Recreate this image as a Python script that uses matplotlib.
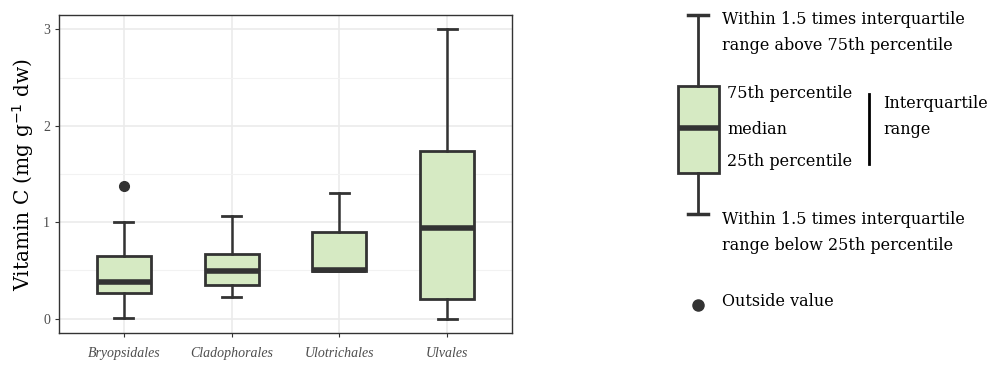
import matplotlib.pyplot as plt
from matplotlib.patches import Rectangle

# data
orders = ["Bryopsidales", "Cladophorales", "Ulotrichales", "Ulvales"]
whisker_low = [0.01, 0.22, 0.49, 0.0]
q1 = [0.26, 0.345, 0.49, 0.2]
median = [0.38, 0.49, 0.50, 0.94]
q3 = [0.65, 0.67, 0.90, 1.735]
whisker_high = [1.0, 1.065, 1.30, 3.0]
outliers = [[1.38], [], [], []]

fill = "#d6eac3"
edge = "#333333"
serif = ["Liberation Serif", "DejaVu Serif"]
wide = ["DejaVu Serif"]
plt.rcParams["font.family"] = serif

fig = plt.figure(figsize=(10.02, 3.65), dpi=100)
ax = fig.add_axes([59 / 1002, 32 / 365, 453 / 1002, 318 / 365])

stats = []
for i, name in enumerate(orders):
    stats.append(dict(label=name, whislo=whisker_low[i], q1=q1[i], med=median[i],
                      q3=q3[i], whishi=whisker_high[i], fliers=outliers[i]))

ax.bxp(stats, positions=range(1, len(orders) + 1), widths=0.5, patch_artist=True,
       boxprops=dict(facecolor=fill, edgecolor=edge, linewidth=2),
       medianprops=dict(color=edge, linewidth=4, solid_capstyle="butt"),
       whiskerprops=dict(color=edge, linewidth=1.8),
       capprops=dict(color=edge, linewidth=2),
       capwidths=0.18,
       flierprops=dict(marker="o", markerfacecolor=edge, markeredgecolor=edge,
                       markersize=7), zorder=3)

ax.set_xlim(0.4, 4.6)
ax.set_ylim(-0.15, 3.15)
ax.set_yticks([0, 1, 2, 3])
ax.set_yticks([0.5, 1.5, 2.5], minor=True)
ax.set_xticks(range(1, 5))
ax.set_xticklabels(orders, fontstyle="italic", fontsize=10, color="#4d4d4d")
ax.tick_params(axis="y", labelsize=10, labelcolor="#4d4d4d", length=3, color="#333333")
ax.tick_params(axis="x", length=3, color="#333333", pad=7)
ax.tick_params(which="minor", length=0)
ax.grid(which="major", color="#ebebeb", linewidth=1.2, zorder=0)
ax.grid(which="minor", axis="y", color="#f2f2f2", linewidth=0.8, zorder=0)
ax.set_axisbelow(True)
for s in ax.spines.values():
    s.set_color("#333333")
    s.set_linewidth(1)
ax.set_ylabel("Vitamin C (mg g$^{-1}$ dw)", fontsize=14.5, family=wide, labelpad=5)

# explanatory key on the right, in pixel units
key = fig.add_axes([0, 0, 1, 1], zorder=5)
key.set_xlim(0, 1002)
key.set_ylim(365, 0)
key.axis("off")
bx = 698
key.plot([bx, bx], [15, 86], color=edge, lw=2)
key.plot([bx, bx], [173, 214], color=edge, lw=2)
key.plot([688, 708], [15, 15], color=edge, lw=2.5)
key.plot([688, 708], [214, 214], color=edge, lw=2.5)
key.add_patch(Rectangle((678, 86), 41, 87, facecolor=fill, edgecolor=edge, lw=2))
key.plot([678, 719], [128, 128], color=edge, lw=4, solid_capstyle="butt")
key.plot([698], [305], "o", color=edge, markersize=8)
key.plot([869, 869], [94, 164], color="black", lw=2)

fs = 11.5
for x, y, s in [(722, 19, "Within 1.5 times interquartile"),
                (722, 45, "range above 75th percentile"),
                (727, 93, "75th percentile"),
                (727, 129, "median"),
                (727, 162, "25th percentile"),
                (883, 103, "Interquartile"),
                (883, 130, "range"),
                (722, 220, "Within 1.5 times interquartile"),
                (722, 246, "range below 25th percentile"),
                (722, 302, "Outside value")]:
    key.text(x, y, s, fontsize=fs, family=wide, va="center")

fig.savefig("out.png", dpi=100)
